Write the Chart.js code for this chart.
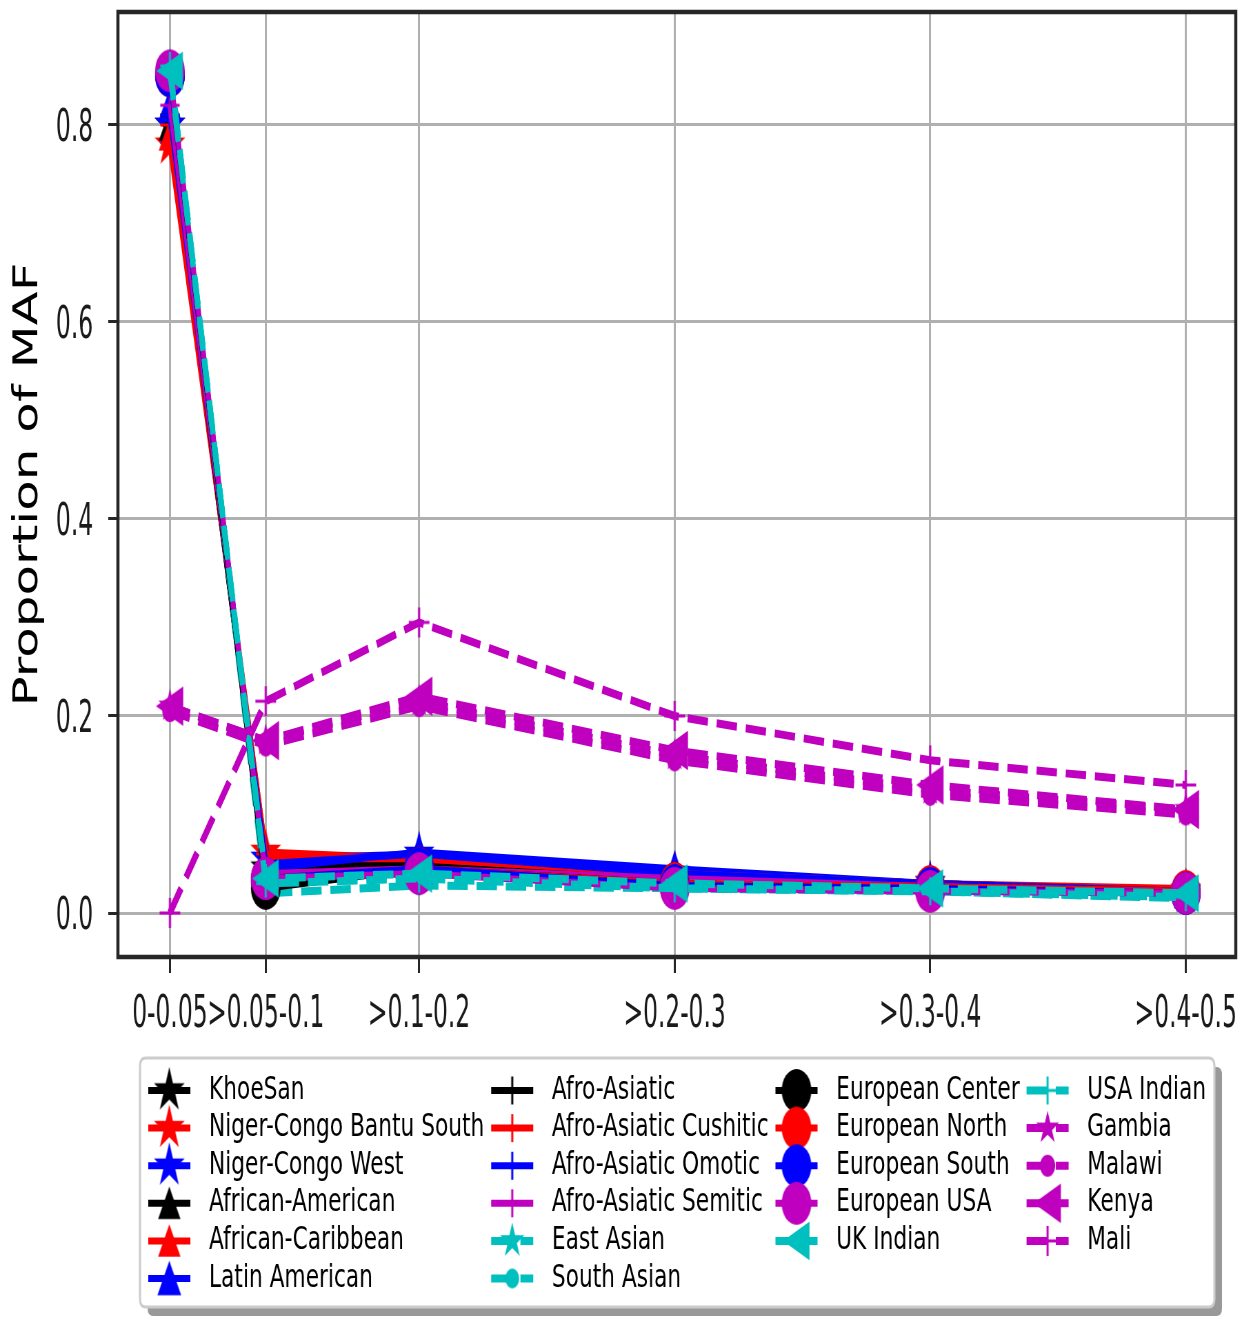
<!DOCTYPE html>
<html>
<head>
<meta charset="utf-8">
<title>Proportion of MAF by population</title>
<script src="https://cdn.jsdelivr.net/npm/chart.js@4.4.1/dist/chart.umd.min.js"></script>
<style>
  html, body { margin: 0; padding: 0; background: #ffffff; overflow: hidden; width: 1253px; height: 1318px; }
  /* the figure is laid out wide and squeezed horizontally to its final width */
  #figure { width: 1817px; height: 1318px; transform: scaleX(0.68960); transform-origin: 0 0; }
  canvas { display: block; }
</style>
</head>
<body>
<div id="figure"><canvas id="maf" width="1817" height="1318"></canvas></div>
<script>
// ---- data -------------------------------------------------------------
const binLabels = ['0-0.05', '>0.05-0.1', '>0.1-0.2', '>0.2-0.3', '>0.3-0.4', '>0.4-0.5'];
const binPositions = [0, 0.0375, 0.0975, 0.1975, 0.2975, 0.3975];
const yTickValues = [0, 0.2, 0.4, 0.6, 0.8];

const populationNames = [
  'KhoeSan', 'Niger-Congo Bantu South', 'Niger-Congo West', 'African-American',
  'African-Caribbean', 'Latin American', 'Afro-Asiatic', 'Afro-Asiatic Cushitic',
  'Afro-Asiatic Omotic', 'Afro-Asiatic Semitic', 'East Asian', 'South Asian',
  'European Center', 'European North', 'European South', 'European USA',
  'UK Indian', 'USA Indian', 'Gambia', 'Malawi', 'Kenya', 'Mali'
];

const khoeSan          = [0.800, 0.045, 0.050, 0.035, 0.025, 0.020];
const bantuSouth       = [0.780, 0.062, 0.055, 0.040, 0.030, 0.022];
const ngcWest          = [0.800, 0.055, 0.060, 0.040, 0.030, 0.022];
const africanAmerican  = [0.800, 0.050, 0.050, 0.040, 0.028, 0.022];
const africanCaribbean = [0.790, 0.055, 0.055, 0.040, 0.030, 0.022];
const latinAmerican    = [0.820, 0.045, 0.062, 0.045, 0.030, 0.022];
const afroAsiatic      = [0.810, 0.040, 0.045, 0.035, 0.027, 0.020];
const cushitic         = [0.800, 0.060, 0.055, 0.040, 0.030, 0.025];
const omotic           = [0.810, 0.050, 0.060, 0.040, 0.030, 0.022];
const semitic          = [0.820, 0.040, 0.045, 0.035, 0.027, 0.020];
const eastAsian        = [0.860, 0.030, 0.040, 0.030, 0.025, 0.018];
const southAsian       = [0.860, 0.020, 0.028, 0.025, 0.022, 0.015];
const europeanCenter   = [0.850, 0.025, 0.045, 0.030, 0.025, 0.020];
const europeanNorth    = [0.850, 0.035, 0.045, 0.030, 0.027, 0.022];
const europeanSouth    = [0.850, 0.035, 0.045, 0.028, 0.025, 0.020];
const europeanUSA      = [0.855, 0.035, 0.040, 0.025, 0.022, 0.020];
const ukIndian         = [0.855, 0.035, 0.040, 0.030, 0.025, 0.020];
const usaIndian        = [0.860, 0.030, 0.035, 0.025, 0.022, 0.016];
const gambia           = [0.210, 0.175, 0.215, 0.160, 0.125, 0.105];
const malawi           = [0.205, 0.170, 0.210, 0.155, 0.120, 0.100];
const kenya            = [0.210, 0.175, 0.220, 0.165, 0.130, 0.105];
const mali             = [0.000, 0.215, 0.295, 0.200, 0.155, 0.130];

const populationValues = [
  khoeSan, bantuSouth, ngcWest, africanAmerican, africanCaribbean, latinAmerican,
  afroAsiatic, cushitic, omotic, semitic, eastAsian, southAsian,
  europeanCenter, europeanNorth, europeanSouth, europeanUSA, ukIndian, usaIndian,
  gambia, malawi, kenya, mali
];

// ---- styles -----------------------------------------------------------
const K = '#000000', R = '#ff0000', B = '#0000ff', M = '#bf00bf', C = '#00bfbf';
const seriesStyles = [
  { color: K, marker: 'star',    size: 21,   dash: false },
  { color: R, marker: 'star',    size: 21,   dash: false },
  { color: B, marker: 'star',    size: 21,   dash: false },
  { color: K, marker: 'triUp',   size: 15,   dash: false },
  { color: R, marker: 'triUp',   size: 15,   dash: false },
  { color: B, marker: 'triUp',   size: 16,   dash: false },
  { color: K, marker: 'plus',    size: 14,   dash: false },
  { color: R, marker: 'plus',    size: 14,   dash: false },
  { color: B, marker: 'plus',    size: 14,   dash: false },
  { color: M, marker: 'plus',    size: 14,   dash: false },
  { color: C, marker: 'star',    size: 16,   dash: true  },
  { color: C, marker: 'circle',  size: 10,   dash: true  },
  { color: K, marker: 'circle',  size: 21.5, dash: false },
  { color: R, marker: 'circle',  size: 21.5, dash: false },
  { color: B, marker: 'circle',  size: 21.5, dash: false },
  { color: M, marker: 'circle',  size: 21.5, dash: false },
  { color: C, marker: 'triLeft', size: 18,   dash: true  },
  { color: C, marker: 'plus',    size: 14,   dash: true  },
  { color: M, marker: 'star',    size: 15,   dash: true  },
  { color: M, marker: 'circle',  size: 11,   dash: true  },
  { color: M, marker: 'triLeft', size: 18.5, dash: true  },
  { color: M, marker: 'plus',    size: 15,   dash: true  }
];
const DASH = [29.6, 12.8];

function makeMarker(shape, r, color) {
  const pad = 3;
  const c = document.createElement('canvas');
  const side = Math.ceil(2 * r + 2 * pad);
  c.width = side; c.height = side;
  const g = c.getContext('2d');
  g.translate(side / 2, side / 2);
  g.fillStyle = color; g.strokeStyle = color;
  g.lineJoin = 'miter'; g.lineWidth = 1.5;
  g.beginPath();
  if (shape === 'star') {
    const inner = r * 0.381966;
    for (let k = 0; k < 10; k++) {
      const rad = k % 2 === 0 ? r : inner;
      const a = -Math.PI / 2 + k * Math.PI / 5;
      const px = rad * Math.cos(a), py = rad * Math.sin(a);
      k === 0 ? g.moveTo(px, py) : g.lineTo(px, py);
    }
    g.closePath(); g.fill(); g.stroke();
  } else if (shape === 'triUp') {
    g.moveTo(0, -r); g.lineTo(-r, r); g.lineTo(r, r); g.closePath(); g.fill(); g.stroke();
  } else if (shape === 'triLeft') {
    g.moveTo(-r, 0); g.lineTo(r, -r); g.lineTo(r, r); g.closePath(); g.fill(); g.stroke();
  } else if (shape === 'circle') {
    g.arc(0, 0, r, 0, Math.PI * 2); g.fill();
  } else if (shape === 'plus') {
    g.lineWidth = 3; g.lineCap = 'butt';
    g.moveTo(-r, 0); g.lineTo(r, 0); g.moveTo(0, -r); g.lineTo(0, r); g.stroke();
  }
  return c;
}

const markerImages = seriesStyles.map(s => makeMarker(s.marker, s.size, s.color));

const datasets = populationNames.map((name, i) => {
  const st = seriesStyles[i];
  return {
    label: name,
    data: populationValues[i].map((v, j) => ({ x: binPositions[j], y: v })),
    borderColor: st.color,
    backgroundColor: st.color,
    borderWidth: st.dash ? 8 : 7,
    borderDash: st.dash ? DASH : [],
    borderCapStyle: 'butt',
    borderJoinStyle: 'round',
    pointStyle: markerImages[i],
    pointRadius: 10,
    pointHoverRadius: 10,
    tension: 0,
    fill: false,
    order: -i
  };
});

// ---- plugins ----------------------------------------------------------
// box around the plotting area
const axesFrame = {
  id: 'axesFrame',
  afterDatasetsDraw(chart) {
    const { ctx, chartArea: a } = chart;
    ctx.save();
    ctx.strokeStyle = '#262626';
    ctx.lineWidth = 4.5;
    ctx.strokeRect(a.left, a.top, a.right - a.left, a.bottom - a.top);
    ctx.restore();
  }
};

// narrow tick labels, placed from the scales' own tick pixels
const TICK_FONT = '44px "DejaVu Sans"';
const TICK_SQUEEZE = 0.77;
const tickLabels = {
  id: 'tickLabels',
  afterDraw(chart) {
    const { ctx, chartArea: a } = chart;
    const xs = chart.scales.x, ys = chart.scales.y;
    ctx.save();
    ctx.font = TICK_FONT;
    ctx.fillStyle = '#1a1a1a';
    ctx.textBaseline = 'alphabetic';
    xs.ticks.forEach((t, i) => {
      const px = xs.getPixelForValue(t.value);
      ctx.save();
      ctx.translate(px, a.bottom + 70);
      ctx.scale(TICK_SQUEEZE, 1);
      ctx.textAlign = 'center';
      ctx.fillText(t.label !== undefined ? t.label : binLabels[i], 0, 0);
      ctx.restore();
    });
    ys.ticks.forEach(t => {
      const py = ys.getPixelForValue(t.value);
      ctx.save();
      ctx.translate(a.left - 36, py + 16);
      ctx.scale(TICK_SQUEEZE, 1);
      ctx.textAlign = 'right';
      ctx.fillText(t.label !== undefined ? t.label : t.value.toFixed(1), 0, 0);
      ctx.restore();
    });
    ctx.restore();
  }
};

function roundRectPath(ctx, x, y, w, h, r) {
  ctx.beginPath();
  ctx.moveTo(x + r, y);
  ctx.lineTo(x + w - r, y); ctx.quadraticCurveTo(x + w, y, x + w, y + r);
  ctx.lineTo(x + w, y + h - r); ctx.quadraticCurveTo(x + w, y + h, x + w - r, y + h);
  ctx.lineTo(x + r, y + h); ctx.quadraticCurveTo(x, y + h, x, y + h - r);
  ctx.lineTo(x, y + r); ctx.quadraticCurveTo(x, y, x + r, y);
  ctx.closePath();
}

// four-column legend below the axes, filled column by column
const columnLegend = {
  id: 'columnLegend',
  afterDraw(chart) {
    const ctx = chart.ctx;
    const ds = chart.data.datasets;
    const n = ds.length, ncol = 4;
    const nrows = Math.ceil(n / ncol);
    const large = n % ncol || ncol;
    const cols = [];
    let idx = 0;
    for (let c = 0; c < ncol; c++) {
      const count = c < large ? nrows : nrows - 1;
      const col = [];
      for (let k = 0; k < count; k++) col.push(idx++);
      cols.push(col);
    }
    ctx.save();
    ctx.font = '31.5px "DejaVu Sans"';
    const boxLeft = 203, boxTop = 1058, boxBottom = 1307;
    const rowY0 = 1090.5, rowStep = 37.6;
    const handleLen = 61, textOffset = 88, colGap = 10, innerPad = 12;
    const colX = [];
    let x = boxLeft + innerPad;
    let lastEnd = x;
    cols.forEach(col => {
      colX.push(x);
      const w = Math.max(...col.map(i => ctx.measureText(ds[i].label).width));
      lastEnd = x + textOffset + w;
      x = lastEnd + colGap;
    });
    const boxRight = lastEnd + innerPad;
    const bw = boxRight - boxLeft, bh = boxBottom - boxTop;

    roundRectPath(ctx, boxLeft + 11, boxTop + 9, bw, bh, 8);
    ctx.fillStyle = 'rgba(0,0,0,0.4)';
    ctx.fill();
    roundRectPath(ctx, boxLeft, boxTop, bw, bh, 8);
    ctx.fillStyle = '#ffffff';
    ctx.fill();
    ctx.strokeStyle = '#cccccc';
    ctx.lineWidth = 3;
    ctx.stroke();

    cols.forEach((col, c) => {
      col.forEach((i, r) => {
        const d = ds[i];
        const y = rowY0 + r * rowStep;
        const hx = colX[c];
        ctx.save();
        ctx.strokeStyle = d.borderColor;
        ctx.lineWidth = d.borderWidth;
        ctx.lineCap = 'butt';
        ctx.setLineDash(d.borderDash || []);
        ctx.beginPath();
        ctx.moveTo(hx, y);
        ctx.lineTo(hx + handleLen, y);
        ctx.stroke();
        ctx.restore();
        const img = d.pointStyle;
        ctx.drawImage(img, hx + handleLen / 2 - img.width / 2, y - img.height / 2);
        ctx.fillStyle = '#000000';
        ctx.textAlign = 'left';
        ctx.textBaseline = 'middle';
        ctx.fillText(d.label, hx + textOffset, y);
      });
    });
    ctx.restore();
  }
};

// ---- chart ------------------------------------------------------------
new Chart(document.getElementById('maf'), {
  type: 'line',
  data: { datasets },
  options: {
    responsive: false,
    animation: false,
    events: [],
    layout: { autoPadding: false, padding: { left: 0, top: 12, right: 25, bottom: 0 } },
    plugins: { legend: { display: false }, tooltip: { enabled: false } },
    scales: {
      x: {
        type: 'linear',
        min: -0.02034,
        max: 0.41706,
        afterBuildTicks: s => { s.ticks = binPositions.map(v => ({ value: v })); },
        afterFit: s => { s.height = 361; s.paddingLeft = 0; s.paddingRight = 0; },
        ticks: { display: false, callback: (v, i) => binLabels[i], autoSkip: false, maxRotation: 0 },
        grid: { color: '#b0b0b0', lineWidth: 3, tickLength: 16, tickColor: '#262626', tickWidth: 3 },
        border: { display: false }
      },
      y: {
        type: 'linear',
        min: -0.04467,
        max: 0.91472,
        afterBuildTicks: s => { s.ticks = yTickValues.map(v => ({ value: v })); },
        afterFit: s => { s.width = 171; s.paddingTop = 0; s.paddingBottom = 0; },
        ticks: { display: false, callback: v => v.toFixed(1) },
        grid: { color: '#b0b0b0', lineWidth: 3, tickLength: 14, tickColor: '#262626', tickWidth: 3 },
        border: { display: false },
        title: {
          display: true,
          text: 'Proportion of MAF',
          color: '#000000',
          font: { family: '"DejaVu Sans"', size: 50 },
          padding: { top: 11, bottom: 0 }
        }
      }
    }
  },
  plugins: [axesFrame, tickLabels, columnLegend]
});
</script>
</body>
</html>
